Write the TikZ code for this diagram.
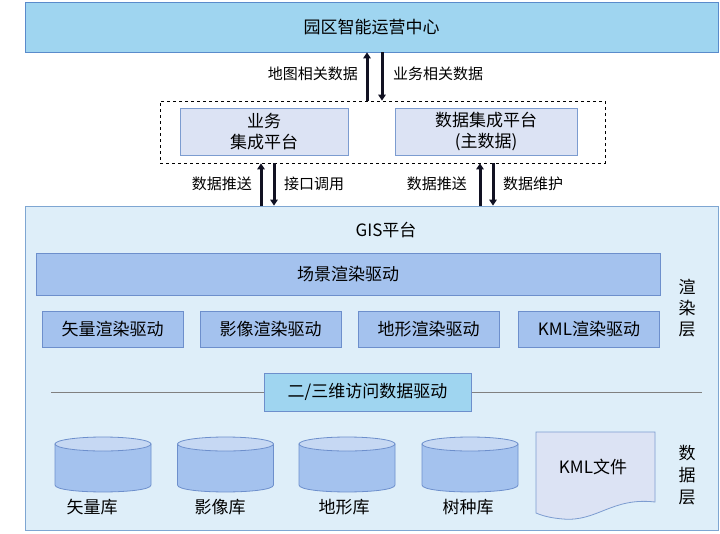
\documentclass[tikz,border=0pt]{standalone}
\usepackage{fontspec}
\setmainfont{Noto Sans CJK SC}
\usetikzlibrary{arrows.meta}

\definecolor{skyfill}{HTML}{9FD5F0}
\definecolor{skyline}{HTML}{5A8BCB}
\definecolor{platfill}{HTML}{DCE3F4}
\definecolor{platline}{HTML}{7C9CD0}
\definecolor{gisfill}{HTML}{DEEEF9}
\definecolor{gisline}{HTML}{7EA6D2}
\definecolor{drvfill}{HTML}{A4C2EE}
\definecolor{drvline}{HTML}{6D8FCC}
\definecolor{cyltopfill}{HTML}{C6D8F3}
\definecolor{flowcol}{HTML}{111122}

\tikzset{
  box/.style={draw=drvline, fill=drvfill, line width=0.8pt, inner sep=0pt,
    font=\fontsize{17}{21}\selectfont},
  platbox/.style={box, draw=platline, fill=platfill, align=center},
  flow/.style={draw=flowcol, line width=3pt, -{Triangle[length=6pt,width=7.5pt]}},
  flowlabel/.style={inner sep=0pt, font=\fontsize{15}{18}\selectfont},
  sidelabel/.style={inner sep=0pt, align=center, font=\fontsize{17}{21}\selectfont},
}

\begin{document}
\begin{tikzpicture}[x=1pt,y=-1pt]
  \useasboundingbox (0,0) rectangle (720,533);

  % top layer
  \node[box, draw=skyline, fill=skyfill, minimum width=693, minimum height=50] (center) at (371.5,27) {园区智能运营中心};

  % integration platforms
  \node[draw, dashed, line width=0.8pt, minimum width=445, minimum height=62] (integ) at (382.5,132) {};
  \node[platbox, minimum width=168, minimum height=47] (biz) at (264,131.5) {业务\\集成平台};
  \node[platbox, minimum width=182, minimum height=47] (mdata) at (486,131.5) {数据集成平台\\(主数据)};

  % GIS platform
  \node[box, draw=gisline, fill=gisfill, minimum width=693, minimum height=324] (gis) at (371.5,368) {};
  \node[sidelabel] (gistitle) at (386,230) {GIS平台};
  \node[box, minimum width=624, minimum height=42] (scene) at (348,274) {场景渲染驱动};
  \node[box, minimum width=141, minimum height=36] (vec) at (112.5,329) {矢量渲染驱动};
  \node[box, minimum width=141, minimum height=36] (img) at (270.5,329) {影像渲染驱动};
  \node[box, minimum width=141, minimum height=36] (ter) at (428.5,329) {地形渲染驱动};
  \node[box, minimum width=141, minimum height=36] (kmld) at (589,329) {KML渲染驱动};
  \node[sidelabel] (render) at (687,308) {渲\\染\\层};

  \coordinate (divL) at (51,392);
  \coordinate (divR) at (702,392);
  \draw[gray, line width=0.8pt] (divL) -- (divR);
  \node[box, fill=skyfill, minimum width=207, minimum height=38] (access) at (367.5,392) {二/三维访问数据驱动};

  % databases
  \foreach \cx/\lx/\name [count=\i] in {103/92/矢量库, 225.5/220/影像库, 347/344/地形库, 470/468/树种库}{
    \filldraw[draw=drvline, fill=drvfill, line width=0.8pt] (\cx-48,444) -- (\cx-48,485)
      .. controls (\cx-48,494.3) and (\cx+48,494.3) .. (\cx+48,485) -- (\cx+48,444) -- cycle;
    \filldraw[draw=drvline, fill=cyltopfill, line width=0.8pt] (\cx,444) ellipse (48 and 7);
    \node[sidelabel] (lib\i) at (\lx,507) {\name};
  }
  \filldraw[draw=platline, fill=platfill, line width=0.8pt] (536,432) -- (655,432) -- (655,502)
    .. controls (612,497) and (597,522) .. (563,519)
    .. controls (551,518) and (543,516) .. (536,513) -- cycle;
  \node[sidelabel] (kmlfile) at (593,467) {KML文件};
  \node[sidelabel, font=\fontsize{17}{22}\selectfont] (datalayer) at (687,475) {数\\据\\层};

  % data flows
  \coordinate (f1) at (367,0);
  \coordinate (f2) at (382,0);
  \coordinate (f3) at (261,0);
  \coordinate (f4) at (274,0);
  \coordinate (f5) at (480,0);
  \coordinate (f6) at (493,0);
  \draw[flow] (integ.north -| f1) -- (center.south -| f1);
  \draw[flow] (center.south -| f2) -- (integ.north -| f2);
  \draw[flow] (gis.north -| f3) -- (integ.south -| f3);
  \draw[flow] (integ.south -| f4) -- (gis.north -| f4);
  \draw[flow] (gis.north -| f5) -- (integ.south -| f5);
  \draw[flow] (integ.south -| f6) -- (gis.north -| f6);
  \node[flowlabel, anchor=east] (mapdata) at (358,74) {地图相关数据};
  \node[flowlabel, anchor=west] (bizdata) at (393,74) {业务相关数据};
  \node[flowlabel, anchor=east] (push1) at (252,184) {数据推送};
  \node[flowlabel, anchor=west] (call) at (284,184) {接口调用};
  \node[flowlabel, anchor=east] (push2) at (467,184) {数据推送};
  \node[flowlabel, anchor=west] (maint) at (503,184) {数据维护};
\end{tikzpicture}
\end{document}
